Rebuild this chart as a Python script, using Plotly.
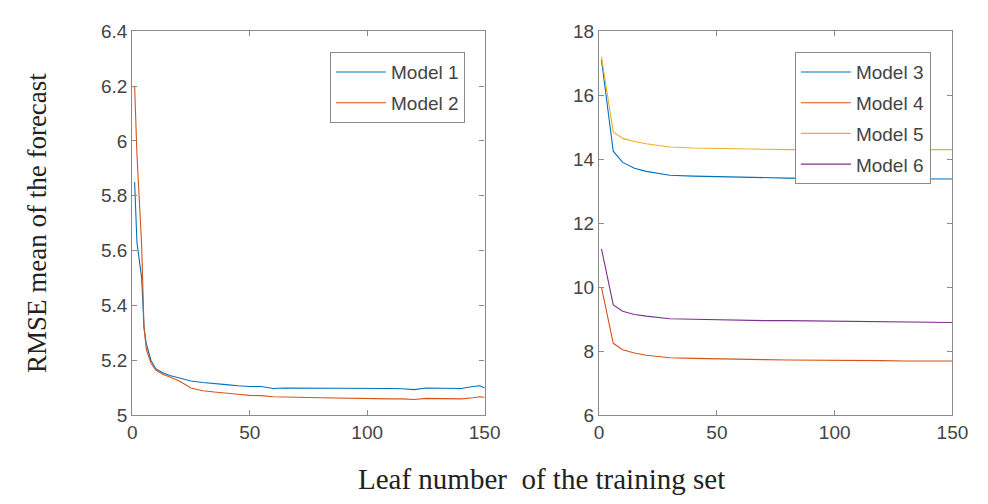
import plotly.graph_objects as go

# ---------------- data ----------------
x_left = [1, 2, 4, 5, 6, 8, 10, 13, 16, 20, 25, 30, 35, 40, 45, 50, 55, 60, 65, 70,
          80, 90, 100, 110, 115, 120, 125, 130, 135, 140, 145, 148, 150]
model1 = [5.85, 5.63, 5.50, 5.32, 5.26, 5.20, 5.17, 5.155, 5.145, 5.135, 5.125, 5.12, 5.115,
          5.112, 5.108, 5.105, 5.105, 5.098, 5.100, 5.100, 5.100, 5.098, 5.100, 5.098,
          5.097, 5.094, 5.100, 5.100, 5.099, 5.098, 5.105, 5.108, 5.100]
model2 = [6.20, 5.95, 5.62, 5.32, 5.24, 5.19, 5.165, 5.15, 5.14, 5.125, 5.10, 5.09, 5.085,
          5.08, 5.077, 5.073, 5.072, 5.068, 5.066, 5.066, 5.064, 5.062, 5.060, 5.060,
          5.060, 5.058, 5.062, 5.062, 5.060, 5.060, 5.064, 5.068, 5.066]

x_right = [1, 6, 10, 15, 20, 25, 30, 40, 50, 60, 70, 80, 90, 100, 110, 120, 130, 140, 150]
model3 = [17.1, 14.25, 13.90, 13.72, 13.62, 13.55, 13.50, 13.47, 13.45, 13.43, 13.42,
          13.41, 13.40, 13.40, 13.40, 13.39, 13.39, 13.38, 13.38]
model4 = [10.0, 8.25, 8.05, 7.95, 7.88, 7.83, 7.80, 7.78, 7.76, 7.75, 7.74, 7.73, 7.73,
          7.72, 7.72, 7.71, 7.70, 7.70, 7.70]
model5 = [17.2, 14.85, 14.65, 14.55, 14.48, 14.42, 14.38, 14.35, 14.33, 14.32, 14.31,
          14.30, 14.30, 14.30, 14.30, 14.30, 14.30, 14.30, 14.30]
model6 = [11.2, 9.45, 9.25, 9.15, 9.10, 9.05, 9.02, 9.00, 8.98, 8.97, 8.96, 8.96, 8.95,
          8.94, 8.93, 8.93, 8.92, 8.92, 8.90]

names_left = ["Model 1", "Model 2"]
names_right = ["Model 3", "Model 4", "Model 5", "Model 6"]
x_ticks = [0, 50, 100, 150]
y_ticks_left = [5, 5.2, 5.4, 5.6, 5.8, 6, 6.2, 6.4]
y_ticks_right = [6, 8, 10, 12, 14, 16, 18]

# ---------------- style ----------------
BLUE = "#0072BD"
ORANGE = "#D95319"
YELLOW = "#EDB120"
PURPLE = "#7E2F8E"
AXC = "#8a8a8a"
TXT = "#444444"

fig = go.Figure()

for name, ys, col in zip(names_left, [model1, model2], [BLUE, ORANGE]):
    fig.add_trace(go.Scatter(x=x_left, y=ys, mode="lines", name=name,
                             line=dict(color=col, width=1.1),
                             xaxis="x", yaxis="y", legend="legend",
                             legendgroup=name))

for name, ys, col in zip(names_right, [model3, model4, model5, model6],
                         [BLUE, ORANGE, YELLOW, PURPLE]):
    fig.add_trace(go.Scatter(x=x_right, y=ys, mode="lines", name=name,
                             line=dict(color=col, width=1.1),
                             xaxis="x2", yaxis="y2", legend="legend2",
                             legendgroup=name))

axis_common = dict(showline=True, linecolor=AXC, linewidth=1.3, mirror="ticks",
                   ticks="inside", ticklen=5, tickcolor=AXC, tickwidth=1,
                   showgrid=False, zeroline=False,
                   tickfont=dict(family="Arial, Liberation Sans", size=19, color=TXT))

legend_common = dict(yanchor="top", xanchor="right", bordercolor=AXC, borderwidth=1,
                     bgcolor="white", itemwidth=50,
                     font=dict(family="Arial, Liberation Sans", size=19, color=TXT),
                     tracegroupgap=3, traceorder="grouped")

ydom = [0.1607, 0.9563]
fig.update_layout(
    width=988, height=504,
    margin=dict(l=0, r=0, t=0, b=0),
    paper_bgcolor="white", plot_bgcolor="white",
    showlegend=True,
    xaxis=dict(domain=[0.1316, 0.496], range=[0, 150], tickvals=x_ticks,
               anchor="y", **axis_common),
    yaxis=dict(domain=ydom, range=[5, 6.4], tickvals=y_ticks_left,
               anchor="x", **axis_common),
    xaxis2=dict(domain=[0.6144, 0.9798], range=[0, 150], tickvals=x_ticks,
                anchor="y2", **axis_common),
    yaxis2=dict(domain=ydom, range=[6, 18], tickvals=y_ticks_right,
                anchor="x2", **axis_common),
    legend=dict(x=0.4757, y=0.9127, **legend_common),
    legend2=dict(x=0.9575, y=0.9127, **legend_common),
    annotations=[
        dict(text="RMSE mean of the forecast", xref="paper", yref="paper",
             x=32 / 988, y=(504 - 222) / 504, xanchor="center", yanchor="middle",
             textangle=-90, showarrow=False,
             font=dict(family="Liberation Serif, Times New Roman", size=27, color="#222")),
        dict(text="Leaf number  of the training set", xref="paper", yref="paper",
             x=548 / 988, y=(504 - 489) / 504, xanchor="center", yanchor="middle",
             showarrow=False,
             font=dict(family="Liberation Serif, Times New Roman", size=29, color="#222")),
    ],
)

fig.write_html(
    "out.html",
    config={"displayModeBar": False},
    post_script="document.body.style.margin='0px';document.body.style.overflow='hidden';",
)
